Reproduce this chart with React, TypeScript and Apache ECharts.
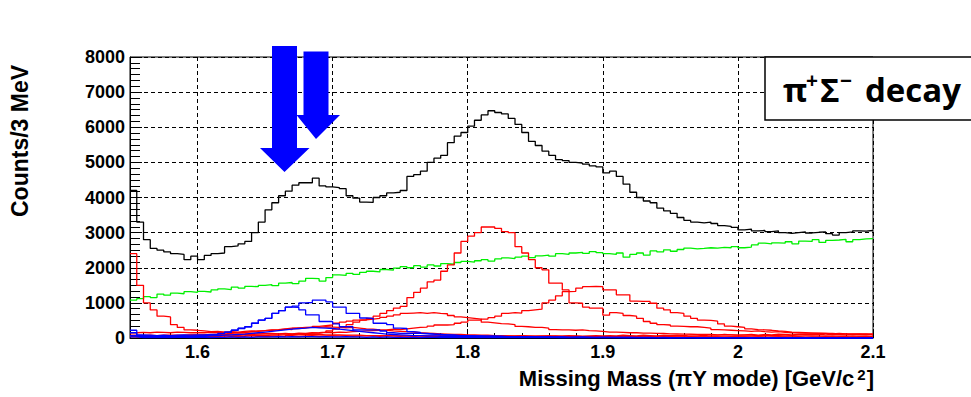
import React, { useEffect, useRef } from "react";
import * as echarts from "echarts";

// Histogram binning (GeV): lower edge of the first bin and bin width
const BIN_START = 1.55;
const BIN_WIDTH = 0.005;
const X_MIN = 1.55;
const X_MAX = 2.1;
const Y_MAX = 8000;

// Total missing-mass spectrum (black)
const totalCounts = [
  4200, 3300, 2800, 2550, 2500, 2450, 2400, 2380, 2230, 2330,
  2230, 2350, 2400, 2420, 2600, 2620, 2680, 2750, 3000, 3300,
  3650, 3850, 4050, 4180, 4350, 4420, 4420, 4550, 4330, 4300,
  4280, 4250, 4050, 3980, 3870, 3860, 4000, 4050, 4130, 4150,
  4200, 4600, 4650, 4750, 5000, 5120, 5200, 5560, 5750, 5850,
  6030, 6200, 6350, 6470, 6420, 6380, 6250, 6080, 5850, 5600,
  5480, 5320, 5200, 5080, 5050, 5000, 4980, 4950, 4900, 4870,
  4700, 4750, 4600, 4380, 4150, 4000, 3900, 3850, 3700, 3620,
  3550, 3430, 3350, 3300, 3280, 3300, 3260, 3200, 3180, 3150,
  3080, 3100, 3050, 3060, 3030, 3050, 3000, 2980, 3000, 3020,
  2990, 3010, 3020, 2970, 2930, 3000, 3020, 3050, 3040, 3060,
];

// Smooth background component (green)
const greenBackground = [
  1080, 1120, 1180, 1150, 1250, 1220, 1280, 1260, 1320, 1300,
  1330, 1310, 1370, 1400, 1380, 1450, 1420, 1470, 1460, 1500,
  1520, 1490, 1560, 1580, 1550, 1620, 1700, 1690, 1620, 1720,
  1800, 1780, 1840, 1810, 1870, 1900, 1880, 1950, 1930, 1990,
  2030, 2000, 2060, 2020, 2080, 2050, 2120, 2100, 2150, 2180,
  2160, 2200, 2230, 2190, 2250, 2280, 2260, 2300, 2330, 2290,
  2340, 2360, 2330, 2400, 2380, 2420, 2440, 2410, 2460, 2430,
  2400, 2380, 2420, 2300, 2380, 2420, 2360, 2480, 2450, 2510,
  2470, 2520, 2560, 2540, 2550, 2570, 2560, 2580, 2570, 2600,
  2570, 2590, 2650, 2700, 2680, 2710, 2700, 2740, 2680, 2760,
  2750, 2800, 2720, 2780, 2790, 2810, 2740, 2800, 2820, 2830,
];

// Red components
const redThreshold = [
  2400, 1500, 1000, 800, 620, 600, 380, 300, 230, 220,
  200, 180, 190, 170, 160, 150, 150, 140, 140, 130,
  130, 120, 120, 110, 110, 100, 100, 100, 90, 90,
  90, 80, 80, 80, 70, 70, 70, 60, 60, 60,
  60, 50, 60, 50, 50, 60, 50, 50, 40, 50,
  50, 40, 50, 40, 50, 40, 40, 50, 40, 40,
  40, 40, 50, 40, 30, 40, 40, 30, 40, 40,
  30, 40, 30, 30, 40, 30, 30, 30, 40, 30,
  30, 30, 30, 30, 30, 30, 30, 20, 30, 30,
  30, 20, 30, 30, 20, 30, 30, 20, 30, 20,
  20, 30, 20, 30, 20, 20, 30, 20, 20, 30,
];

const redPeak1820 = [
  40, 40, 50, 40, 50, 50, 40, 50, 50, 50,
  50, 60, 50, 60, 60, 70, 60, 70, 80, 70,
  80, 90, 90, 100, 110, 120, 140, 150, 170, 200,
  250, 300, 380, 450, 510, 560, 620, 700, 780, 850,
  900, 1150, 1300, 1420, 1600, 1650, 1900, 2080, 2420, 2750,
  2900, 3000, 3160, 3160, 3120, 3030, 3000, 2600, 2420, 2230,
  2000, 1940, 1560, 1560, 1370, 1000, 990, 880, 850, 850,
  650, 720, 700, 640, 620, 560, 470, 420, 380, 370,
  340, 330, 320, 320, 300, 280, 240, 230, 220, 210,
  200, 190, 200, 180, 170, 180, 160, 150, 150, 140,
  140, 130, 130, 120, 130, 120, 110, 110, 120, 110,
];

const redPeak1890 = [
  80, 70, 80, 70, 80, 80, 70, 80, 90, 80,
  90, 80, 90, 100, 90, 100, 110, 100, 110, 120,
  110, 120, 130, 120, 140, 130, 150, 140, 160, 150,
  170, 160, 180, 190, 200, 210, 220, 230, 250, 240,
  260, 280, 300, 310, 340, 370, 370, 380, 420, 450,
  510, 510, 540, 580, 620, 700, 720, 710, 780, 800,
  820, 1000, 1080, 1200, 1320, 1330, 1420, 1460, 1470, 1460,
  1370, 1370, 1230, 1230, 1050, 1040, 1040, 990, 850, 800,
  720, 700, 620, 560, 510, 500, 480, 400, 340, 320,
  300, 260, 240, 230, 220, 200, 190, 170, 160, 150,
  140, 140, 130, 130, 120, 120, 110, 120, 110, 100,
];

const redBroad = [
  150, 160, 150, 170, 160, 150, 170, 160, 150, 150,
  150, 160, 170, 160, 180, 170, 190, 200, 190, 210,
  220, 230, 250, 240, 270, 290, 300, 330, 350, 370,
  420, 450, 480, 510, 520, 540, 560, 590, 620, 660,
  700, 710, 720, 700, 720, 700, 690, 640, 600, 580,
  560, 540, 450, 430, 410, 400, 380, 330, 320, 300,
  300, 280, 240, 230, 230, 220, 230, 210, 200, 190,
  170, 170, 160, 150, 150, 140, 140, 130, 130, 120,
  120, 110, 110, 100, 100, 100, 90, 90, 90, 80,
  80, 80, 70, 80, 70, 70, 60, 70, 60, 60,
  60, 60, 50, 60, 50, 50, 60, 50, 50, 50,
];

const redLowBump = [
  60, 50, 60, 70, 60, 70, 80, 70, 80, 90,
  90, 100, 110, 120, 130, 150, 160, 180, 200, 210,
  230, 240, 260, 280, 290, 300, 310, 300, 320, 310,
  300, 290, 300, 280, 260, 250, 230, 220, 200, 190,
  180, 170, 150, 140, 130, 120, 110, 100, 100, 90,
  90, 80, 80, 70, 70, 60, 60, 60, 50, 50,
  50, 40, 50, 40, 40, 50, 40, 40, 40, 40,
  40, 40, 30, 40, 40, 30, 40, 30, 30, 40,
  30, 30, 40, 30, 30, 30, 30, 30, 30, 30,
  30, 30, 30, 20, 30, 30, 20, 30, 30, 20,
  30, 20, 30, 30, 20, 30, 20, 30, 30, 20,
];

const redBase = [
  60, 30, 50, 40, 30, 50, 40, 30, 50, 40,
  30, 50, 40, 60, 40, 50, 30, 60, 50, 40,
  50, 60, 40, 70, 50, 60, 70, 50, 60, 70,
  60, 70, 50, 60, 70, 60, 50, 70, 60, 50,
  60, 50, 70, 60, 50, 60, 70, 50, 60, 50,
  60, 50, 60, 70, 50, 60, 50, 70, 60, 50,
  60, 70, 50, 60, 70, 60, 50, 60, 70, 60,
  70, 60, 80, 70, 60, 80, 70, 60, 80, 70,
  80, 70, 90, 80, 70, 90, 80, 100, 90, 80,
  90, 100, 80, 100, 90, 110, 100, 90, 110, 100,
  100, 110, 90, 110, 100, 90, 110, 100, 90, 110,
];

// Blue components
const bluePeak1690 = [
  220, 90, 80, 70, 80, 70, 80, 90, 80, 90,
  90, 100, 110, 130, 170, 220, 280, 320, 420, 510,
  560, 700, 780, 880, 910, 1000, 1010, 1080, 1080, 1030,
  880, 880, 700, 700, 570, 560, 420, 420, 380, 280,
  270, 180, 160, 130, 110, 100, 90, 80, 70, 70,
  60, 60, 50, 50, 50, 40, 40, 40, 40, 30,
  30, 30, 30, 30, 20, 30, 20, 20, 20, 20,
  20, 20, 20, 20, 20, 10, 20, 10, 10, 10,
  10, 10, 10, 10, 10, 10, 10, 10, 10, 10,
  10, 10, 10, 0, 10, 10, 0, 10, 10, 0,
  10, 0, 10, 10, 0, 10, 0, 10, 0, 10,
];

const bluePeak1670 = [
  70, 60, 60, 50, 60, 50, 60, 60, 50, 60,
  70, 90, 100, 130, 170, 220, 270, 320, 420, 510,
  560, 700, 780, 880, 870, 800, 660, 660, 470, 470,
  400, 320, 320, 230, 230, 230, 230, 200, 150, 130,
  130, 130, 130, 120, 110, 100, 90, 80, 70, 60,
  60, 50, 50, 50, 40, 40, 40, 40, 30, 30,
  30, 30, 20, 30, 20, 20, 30, 20, 20, 20,
  20, 20, 10, 20, 10, 20, 10, 10, 20, 10,
  10, 10, 10, 10, 10, 10, 0, 10, 10, 10,
  10, 0, 10, 10, 0, 0, 10, 0, 10, 0,
  0, 10, 0, 0, 10, 0, 10, 0, 0, 0,
];

const blueLowBump = [
  150, 50, 40, 30, 40, 30, 40, 50, 40, 50,
  50, 60, 70, 80, 90, 100, 110, 130, 150, 170,
  190, 210, 230, 250, 270, 280, 300, 290, 280, 270,
  250, 230, 210, 190, 170, 150, 130, 110, 100, 90,
  80, 70, 70, 60, 60, 50, 50, 50, 40, 40,
  40, 40, 30, 30, 30, 30, 30, 20, 30, 20,
  20, 20, 20, 10, 20, 10, 20, 10, 10, 20,
  10, 10, 20, 10, 10, 10, 10, 10, 10, 10,
  10, 10, 10, 10, 0, 10, 10, 0, 10, 10,
  10, 0, 10, 10, 0, 10, 0, 10, 0, 0,
  0, 10, 0, 0, 10, 0, 0, 0, 10, 0,
];

const blueBase = [
  30, 10, 20, 10, 20, 10, 20, 20, 10, 20,
  20, 10, 20, 20, 30, 20, 30, 20, 30, 30,
  30, 40, 30, 40, 30, 40, 40, 30, 40, 30,
  30, 40, 30, 30, 20, 30, 20, 30, 20, 20,
  20, 20, 10, 20, 20, 10, 20, 10, 20, 10,
  20, 10, 10, 20, 10, 10, 20, 10, 10, 10,
  10, 10, 20, 10, 10, 10, 10, 20, 10, 10,
  10, 10, 10, 10, 10, 10, 10, 10, 10, 0,
  10, 0, 10, 0, 10, 0, 0, 10, 0, 0,
  0, 10, 0, 0, 0, 10, 0, 0, 0, 0,
  0, 0, 0, 0, 0, 0, 0, 0, 0, 0,
];

const Y_TICKS = [0, 1000, 2000, 3000, 4000, 5000, 6000, 7000, 8000];

const LABEL_FONT = '"Liberation Sans", Arial, Helvetica, sans-serif';
const BOX_FONT = '"Open Sans", "DejaVu Sans", sans-serif';

// Step outline for a histogram: one point per lower bin edge plus the upper edge
function histogramSteps(values: number[]) {
  const pts: number[][] = values.map((v, i) => [
    +(BIN_START + i * BIN_WIDTH).toFixed(4),
    v,
  ]);
  pts.push([X_MAX, values[values.length - 1]]);
  return pts;
}

function histSeries(name: string, values: number[], color: string, z: number) {
  return {
    type: "line",
    name,
    data: histogramSteps(values),
    step: "end",
    symbol: "none",
    showSymbol: false,
    silent: true,
    z,
    lineStyle: { color, width: 1.3 },
    itemStyle: { color },
  };
}

function boxText(text: string, x: number, y: number, size: number, align = "left") {
  return {
    type: "text",
    x,
    y,
    z: 101,
    style: {
      text,
      fill: "#000",
      font: `bold ${size}px ${BOX_FONT}`,
      align,
      verticalAlign: "middle",
    },
  };
}

export default function App() {
  const ref = useRef<HTMLDivElement>(null);

  useEffect(() => {
    if (!ref.current) return;
    const chart = echarts.init(ref.current, null, { renderer: "svg" });

    const option = {
      animation: false,
      backgroundColor: "#fff",
      grid: {
        left: 130,
        top: 57,
        right: 98,
        bottom: 59,
        show: true,
        borderColor: "#000",
        borderWidth: 1,
        backgroundColor: "transparent",
      },
      xAxis: {
        type: "value",
        min: X_MIN,
        max: X_MAX,
        splitNumber: 5,
        axisLine: { show: true, onZero: false, lineStyle: { color: "#000", width: 1 } },
        axisTick: { show: true, inside: true, length: 9, lineStyle: { color: "#000" } },
        minorTick: { show: true, splitNumber: 5, length: 5, lineStyle: { color: "#000" } },
        axisLabel: {
          color: "#000",
          fontSize: 18,
          fontWeight: "bold",
          fontFamily: LABEL_FONT,
          margin: 5,
          formatter: (v: number) =>
            Math.abs(v * 10 - Math.round(v * 10)) < 1e-6 ? String(+v.toFixed(1)) : "",
        },
        splitLine: { show: true, lineStyle: { color: "#000", type: [4, 3], width: 1 } },
      },
      yAxis: {
        type: "value",
        min: Y_TICKS[0],
        max: Y_MAX,
        interval: Y_TICKS[1] - Y_TICKS[0],
        axisLine: { show: true, lineStyle: { color: "#000", width: 1 } },
        axisTick: { show: true, inside: true, length: 12, lineStyle: { color: "#000" } },
        minorTick: { show: true, splitNumber: 6, length: 10, lineStyle: { color: "#000" } },
        axisLabel: {
          color: "#000",
          fontSize: 18,
          fontWeight: "bold",
          fontFamily: LABEL_FONT,
          margin: 5,
          formatter: (v: number) => String(v),
        },
        splitLine: { show: true, lineStyle: { color: "#000", type: [4, 3], width: 1 } },
      },
      series: [
        histSeries("background", greenBackground, "#00f000", 2),
        histSeries("threshold", redThreshold, "#ff0000", 3),
        histSeries("peak 1.82", redPeak1820, "#ff0000", 3),
        histSeries("peak 1.89", redPeak1890, "#ff0000", 3),
        histSeries("broad", redBroad, "#ff0000", 3),
        histSeries("low bump", redLowBump, "#ff0000", 3),
        histSeries("red base", redBase, "#ff0000", 3),
        histSeries("peak 1.69", bluePeak1690, "#0000ff", 4),
        histSeries("peak 1.67", bluePeak1670, "#0000ff", 4),
        histSeries("blue bump", blueLowBump, "#0000ff", 4),
        histSeries("blue base", blueBase, "#0000ff", 4),
        histSeries("total", totalCounts, "#000000", 5),
      ],
      graphic: [
        {
          type: "text",
          x: 20,
          y: 141,
          rotation: Math.PI / 2,
          z: 100,
          style: {
            text: "Counts/3 MeV",
            fill: "#000",
            font: `bold 23px ${LABEL_FONT}`,
            align: "center",
            verticalAlign: "middle",
          },
        },
        {
          type: "text",
          x: 874,
          y: 378,
          z: 100,
          style: {
            text: "{a|Missing Mass (πY mode) [GeV/c}{s|2}{a|]}",
            fill: "#000",
            align: "right",
            verticalAlign: "middle",
            rich: {
              a: { fontSize: 22, fontWeight: "bold", fontFamily: LABEL_FONT, fill: "#000" },
              s: {
                fontSize: 15,
                fontWeight: "bold",
                fontFamily: LABEL_FONT,
                fill: "#000",
                verticalAlign: "top",
                padding: [0, 1, 0, 3],
              },
            },
          },
        },
        {
          type: "polygon",
          z: 100,
          shape: {
            points: [
              [272, 46], [297, 46], [297, 148], [309.5, 148],
              [284.5, 172], [260, 148], [272, 148],
            ],
          },
          style: { fill: "#0000ff" },
        },
        {
          type: "polygon",
          z: 100,
          shape: {
            points: [
              [303.5, 51.5], [328.5, 51.5], [328.5, 115], [340, 115],
              [316, 139], [296.5, 115], [303.5, 115],
            ],
          },
          style: { fill: "#0000ff" },
        },
        {
          type: "rect",
          z: 100,
          shape: { x: 765, y: 57, width: 220, height: 63 },
          style: { fill: "#fff", stroke: "#000", lineWidth: 1.5 },
        },
        boxText("π", 783, 89, 33),
        boxText("+", 806, 80, 21),
        boxText("Σ", 820, 89, 33),
        boxText("−", 840, 80, 21),
        boxText("decay", 961, 89, 33, "right"),
      ],
    };

    chart.setOption(option as any);
    return () => chart.dispose();
  }, []);

  return (
    <div
      ref={ref}
      style={{ position: "fixed", left: 0, top: 0, width: 971, height: 397, background: "#fff" }}
    />
  );
}
